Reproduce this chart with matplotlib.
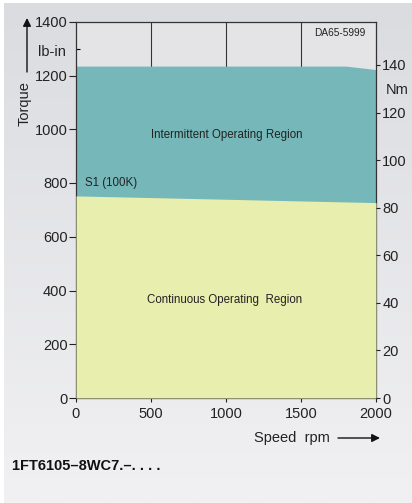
import numpy as np
import matplotlib.pyplot as plt

plt.rcParams['font.family'] = ['Liberation Sans', 'DejaVu Sans']

# torque curves, lb-in vs speed rpm
speed_int = [0, 1800, 2000]
torque_int = [1235, 1235, 1222]
speed_s1 = [0, 2000]
torque_s1 = [752, 727]

x_ticks = [0, 500, 1000, 1500, 2000]
y_ticks = [0, 200, 400, 600, 800, 1000, 1200, 1400]
nm_ticks = [0, 20, 40, 60, 80, 100, 120, 140]
LBIN_PER_NM = 8.8507

W, H = 412, 503


def px(x, y):
    return x / W, 1 - y / H


fig = plt.figure(figsize=(W / 100, H / 100), dpi=100, facecolor='white')

# grey gradient background
bg = fig.add_axes([4 / W, 0, 1 - 4 / W, 1 - 3 / H], zorder=-10)
grad = np.linspace(0, 1, 256).reshape(-1, 1)
top = np.array([219, 220, 224]) / 255
bot = np.array([241, 241, 243]) / 255
img = top + (bot - top) * grad[:, :, None]
bg.imshow(img, aspect='auto', extent=[0, 1, 0, 1])
bg.axis('off')

ax = fig.add_axes([76 / W, 105 / H, 300 / W, 376.25 / H])
ax.set_facecolor('#e4e4e7')
ax.set_xlim(0, 2000)
ax.set_ylim(0, 1400)

for xv in x_ticks[1:-1]:
    ax.axvline(xv, color='#333333', lw=0.8, zorder=1)

ax.fill_between(speed_int, 0, torque_int, color='#76b8b9', lw=0, zorder=2)
ax.fill_between(speed_s1, 0, torque_s1, color='#e8eeae', lw=0, zorder=3)

ax.set_xticks(x_ticks)
ax.set_yticks(y_ticks)
ax.set_yticks(np.arange(100, 1400, 200), minor=True)
ax.tick_params(axis='x', direction='out', length=3, width=0.8, pad=3.5,
               labelsize=10.5, colors='#222222')
ax.tick_params(axis='y', direction='out', length=5, width=0.8, pad=1,
               labelsize=10.5, colors='#222222')
ax.tick_params(axis='y', which='minor', direction='in', length=3, width=0.8)
for s in ax.spines.values():
    s.set_color('#333333')
    s.set_linewidth(0.9)

ax2 = ax.twinx()
ax2.set_ylim(0, 1400 / LBIN_PER_NM)
ax2.set_yticks(nm_ticks)
ax2.tick_params(axis='y', direction='out', length=3, width=0.8, pad=1.5,
                labelsize=10.5, colors='#222222')
for s in ax2.spines.values():
    s.set_visible(False)

tc = '#222222'
fig.text(*px(227, 135), 'Intermittent Operating Region', ha='center',
         va='center', fontsize=8.3, color=tc)
fig.text(*px(225, 300), 'Continuous Operating  Region', ha='center',
         va='center', fontsize=8.3, color=tc)
fig.text(*px(85, 183), 'S1 (100K)', ha='left', va='center', fontsize=8.3,
         color=tc)
fig.text(*px(340, 33), 'DA65-5999', ha='center', va='center', fontsize=7.3,
         color=tc)
fig.text(*px(52, 52), 'lb-in', ha='center', va='center', fontsize=10.5,
         color=tc)
fig.text(*px(397, 90), 'Nm', ha='center', va='center', fontsize=10.5,
         color=tc)
fig.text(*px(25, 104), 'Torque', ha='center', va='center', rotation=90,
         fontsize=10.5, color=tc)
fig.text(*px(330, 438), 'Speed  rpm', ha='right', va='center',
         fontsize=10.5, color=tc)
fig.text(*px(12, 466), '1FT6105\u20138WC7.\u2013. . . .', ha='left',
         va='center', fontsize=10.5, fontweight='bold', color='#111111')

arrow = dict(arrowstyle='-|>', color='#111111', lw=1.0,
             mutation_scale=12, shrinkA=0, shrinkB=0)
fig.add_artist(plt.matplotlib.patches.FancyArrowPatch(
    px(27, 72), px(27, 18), transform=fig.transFigure, **arrow))
fig.add_artist(plt.matplotlib.patches.FancyArrowPatch(
    px(338, 438), px(380, 438), transform=fig.transFigure, **arrow))

fig.savefig('out.png', dpi=100, facecolor=fig.get_facecolor())
